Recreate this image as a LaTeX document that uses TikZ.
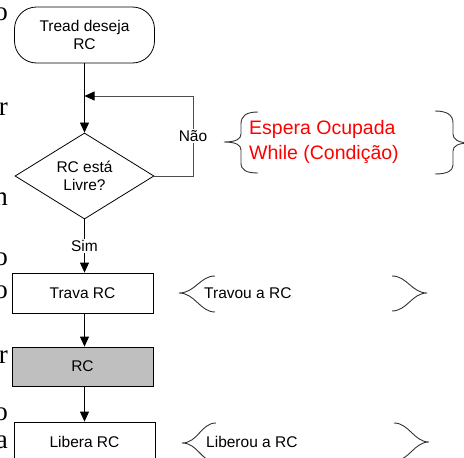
\documentclass[tikz,border=0pt]{standalone}
\usepackage{fontspec}
\setmainfont{Liberation Sans}
\newfontfamily\serifbg{Liberation Serif}
\usetikzlibrary{shapes.geometric,arrows.meta}
\begin{document}
\begin{tikzpicture}[x=1pt,y=-1pt,
  flow/.style={draw, line width=0.8pt, font=\fontsize{15.5}{18.5}\selectfont, align=center, inner sep=0pt},
  box/.style={flow, rectangle, minimum width=141pt, minimum height=40pt},
  arr/.style={line width=0.8pt, -{Triangle[length=10pt,width=9pt,color=black]}},
  bracestyle/.style={line width=0.9pt, draw=black!80},
  note/.style={font=\fontsize{15.5}{18.5}\selectfont, inner sep=0pt, anchor=west},
  bg/.style={font=\serifbg\fontsize{27}{30}\selectfont, inner sep=0pt, anchor=base east}]
\useasboundingbox (0,0) rectangle (464,458);
% background text fragments
\node[bg] (b1) at (8,20) {o};
\node[bg] (b2) at (8,115) {r};
\node[bg] (b3) at (8,205) {n};
\node[bg] (b4) at (8,265) {o};
\node[bg] (b5) at (8,298) {o};
\node[bg] (b6) at (8,363) {r};
\node[bg] (b7) at (8,420) {o};
\node[bg] (b8) at (8,448) {a};
% flow
\node[flow, rounded corners=22pt, minimum width=140pt, minimum height=56pt] (start) at (84.5,35) {Tread deseja\\RC};
\node[flow, diamond, minimum width=139pt, minimum height=84pt] (dec) at (84.5,176) {RC está\\Livre?};
\node[box] (trava) at (82.5,293) {Trava RC};
\node[box, fill=black!25, minimum height=39pt] (rc) at (82.5,366.5) {RC};
\node[box] (libera) at (84.5,442) {Libera RC};
\coordinate (loopin) at (84.5,96);
\draw[arr] (start) -- (dec);
\draw[arr, draw=black!70] (dec.east) -- (193,176) -- node[fill=white, inner sep=1pt, font=\fontsize{15.5}{18.5}\selectfont, text=black] (nao) {Não} (193,96) -- (loopin);
\draw[arr] (dec.south) -- node[fill=white, inner sep=1pt, font=\fontsize{15.5}{18.5}\selectfont] (sim) {Sim} (dec.south |- trava.north);
\draw[arr] (trava.south -| 84.5,0) -- (rc.north -| 84.5,0);
\draw[arr] (rc.south -| 84.5,0) -- (libera.north);
% annotations
\node[anchor=west, inner sep=0pt, align=left, text=red, font=\fontsize{19.5}{25}\selectfont] (espera) at (249,142) {Espera Ocupada\\While (Condição)};
\node[note] (travou) at (204,293) {Travou a RC};
\node[note] (liberou) at (206,442) {Liberou a RC};
% braces
\draw[bracestyle] (258,112) .. controls (246,112) and (241,116) .. (241,124) -- (241,134)
  .. controls (241,139) and (236,142) .. (224,142)
  .. controls (236,142) and (241,145) .. (241,150) -- (241,163)
  .. controls (241,170) and (246,173) .. (258,173);
\draw[bracestyle] (435,111) .. controls (447,111) and (453,115) .. (453,123) -- (453,134)
  .. controls (453,139) and (458,143) .. (470,143)
  .. controls (458,143) and (453,146) .. (453,151) -- (453,165)
  .. controls (453,171) and (447,174) .. (435,174);
\draw[bracestyle] (215,276) .. controls (200,276) and (195,293) .. (179,293)
  .. controls (195,293) and (200,312) .. (215,312);
\draw[bracestyle] (392,276) .. controls (407,276) and (412,293) .. (427,293)
  .. controls (412,293) and (407,311) .. (392,311);
\draw[bracestyle] (216,423) .. controls (201,423) and (198,443) .. (182,443)
  .. controls (198,443) and (201,462) .. (216,462);
\draw[bracestyle] (394,423) .. controls (409,423) and (414,442) .. (429,442)
  .. controls (414,442) and (409,461) .. (394,461);
\end{tikzpicture}
\end{document}
